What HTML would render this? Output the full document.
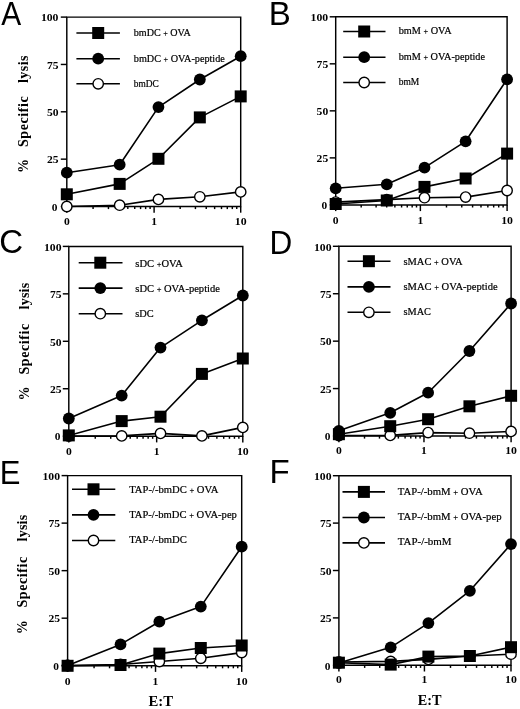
<!DOCTYPE html>
<html><head><meta charset="utf-8"><style>
html,body{margin:0;padding:0;background:#fff;width:520px;height:709px;overflow:hidden;}
svg{display:block;will-change:transform;}
.ax{stroke:#000;stroke-width:1.45;fill:none;stroke-linecap:butt;}
.dl{stroke:#000;stroke-width:1.6;fill:none;stroke-linejoin:round;}
.oc{fill:#fff;stroke:#000;stroke-width:1.4;}
.xl{font-family:"Liberation Serif",serif;font-weight:bold;font-size:11.2px;}
.tl{font-family:"Liberation Serif",serif;font-weight:bold;font-size:10.6px;}
.lg{font-family:"Liberation Serif",serif;font-size:10px;stroke:#000;stroke-width:0.2px;}
.yl{font-family:"Liberation Serif",serif;font-weight:bold;font-size:14px;}
.et{font-family:"Liberation Serif",serif;font-weight:bold;font-size:14.5px;}
.pl{font-family:"Liberation Sans",sans-serif;font-size:33px;}
</style></head><body>
<svg width="520" height="709" viewBox="0 0 520 709">
<path d="M66.8 206.5V17.1H240.7V206.5H66.8" class="ax"/>
<path d="M60.8 206.5H66.8" class="ax"/>
<text x="57.4" y="210.7" class="tl" style="font-size:11.4px" text-anchor="end" textLength="5.7" lengthAdjust="spacingAndGlyphs">0</text>
<path d="M60.8 159.15H66.8" class="ax"/>
<text x="58.5" y="163.35" class="tl" text-anchor="end" textLength="11.6" lengthAdjust="spacingAndGlyphs">25</text>
<path d="M60.8 111.8H66.8" class="ax"/>
<text x="58.5" y="116" class="tl" text-anchor="end" textLength="11.6" lengthAdjust="spacingAndGlyphs">50</text>
<path d="M60.8 64.45H66.8" class="ax"/>
<text x="58.5" y="68.65" class="tl" text-anchor="end" textLength="11.6" lengthAdjust="spacingAndGlyphs">75</text>
<path d="M60.8 17.1H66.8" class="ax"/>
<text x="58.5" y="21.3" class="tl" text-anchor="end" textLength="17.6" lengthAdjust="spacingAndGlyphs">100</text>
<path d="M93.08 206.5V209.1" class="ax"/>
<path d="M108.45 206.5V209.1" class="ax"/>
<path d="M119.36 206.5V209.1" class="ax"/>
<path d="M127.82 206.5V209.1" class="ax"/>
<path d="M134.73 206.5V209.1" class="ax"/>
<path d="M140.58 206.5V209.1" class="ax"/>
<path d="M145.64 206.5V209.1" class="ax"/>
<path d="M150.1 206.5V209.1" class="ax"/>
<path d="M180.17 206.5V209.1" class="ax"/>
<path d="M195.42 206.5V209.1" class="ax"/>
<path d="M206.24 206.5V209.1" class="ax"/>
<path d="M214.63 206.5V209.1" class="ax"/>
<path d="M221.49 206.5V209.1" class="ax"/>
<path d="M227.29 206.5V209.1" class="ax"/>
<path d="M232.31 206.5V209.1" class="ax"/>
<path d="M236.74 206.5V209.1" class="ax"/>
<path d="M66.8 206.5V212.7" class="ax"/>
<path d="M154.1 206.5V212.7" class="ax"/>
<path d="M240.7 206.5V212.7" class="ax"/>
<text x="66.8" y="225" class="xl" text-anchor="middle" textLength="5.8" lengthAdjust="spacingAndGlyphs">0</text>
<text x="154.1" y="225" class="xl" text-anchor="middle" textLength="5.8" lengthAdjust="spacingAndGlyphs">1</text>
<text x="240.7" y="225" class="xl" text-anchor="middle" textLength="11.8" lengthAdjust="spacingAndGlyphs">10</text>
<polyline points="66.8,206.5 119.67,205.2 158.45,199.4 199.83,196.8 240.7,191.9" class="dl"/>
<polyline points="66.8,194.3 119.67,183.9 158.45,158.8 199.83,117.4 240.7,96.4" class="dl"/>
<polyline points="66.8,172.7 119.67,164.7 158.45,107.1 199.83,79.5 240.7,56.2" class="dl"/>
<circle cx="66.8" cy="206.5" r="5.2" class="oc"/>
<circle cx="119.67" cy="205.2" r="5.2" class="oc"/>
<circle cx="158.45" cy="199.4" r="5.2" class="oc"/>
<circle cx="199.83" cy="196.8" r="5.2" class="oc"/>
<circle cx="240.7" cy="191.9" r="5.2" class="oc"/>
<circle cx="66.8" cy="172.7" r="5.9"/>
<circle cx="119.67" cy="164.7" r="5.9"/>
<circle cx="158.45" cy="107.1" r="5.9"/>
<circle cx="199.83" cy="79.5" r="5.9"/>
<circle cx="240.7" cy="56.2" r="5.9"/>
<rect x="60.8" y="188.3" width="12.0" height="12.0"/>
<rect x="113.67" y="177.9" width="12.0" height="12.0"/>
<rect x="152.45" y="152.8" width="12.0" height="12.0"/>
<rect x="193.83" y="111.4" width="12.0" height="12.0"/>
<rect x="234.7" y="90.4" width="12.0" height="12.0"/>
<path d="M76.4 33H119.9" class="dl"/>
<rect x="92.2" y="27" width="12.0" height="12.0"/>
<text x="133.8" y="36.3" class="lg" textLength="57" lengthAdjust="spacingAndGlyphs">bmDC <tspan style="font-size:8px">+</tspan> OVA</text>
<path d="M76.4 58.7H119.9" class="dl"/>
<circle cx="98.2" cy="58.7" r="5.9"/>
<text x="133.8" y="61.8" class="lg" textLength="91" lengthAdjust="spacingAndGlyphs">bmDC <tspan style="font-size:8px">+</tspan> OVA-peptide</text>
<path d="M76.4 83.8H119.9" class="dl"/>
<circle cx="98.2" cy="83.8" r="5.2" class="oc"/>
<text x="133.8" y="87" class="lg" textLength="25" lengthAdjust="spacingAndGlyphs">bmDC</text>
<text transform="translate(1.2,24.9) scale(0.905,1)" class="pl">A</text>
<path d="M335.7 204.9V16.8H507.1V204.9H335.7" class="ax"/>
<path d="M329.7 204.9H335.7" class="ax"/>
<text x="327.1" y="209.1" class="tl" style="font-size:11.4px" text-anchor="end" textLength="5.7" lengthAdjust="spacingAndGlyphs">0</text>
<path d="M329.7 157.88H335.7" class="ax"/>
<text x="328.2" y="162.07" class="tl" text-anchor="end" textLength="11.6" lengthAdjust="spacingAndGlyphs">25</text>
<path d="M329.7 110.85H335.7" class="ax"/>
<text x="328.2" y="115.05" class="tl" text-anchor="end" textLength="11.6" lengthAdjust="spacingAndGlyphs">50</text>
<path d="M329.7 63.83H335.7" class="ax"/>
<text x="328.2" y="68.03" class="tl" text-anchor="end" textLength="11.6" lengthAdjust="spacingAndGlyphs">75</text>
<path d="M329.7 16.8H335.7" class="ax"/>
<text x="328.2" y="21" class="tl" text-anchor="end" textLength="17.6" lengthAdjust="spacingAndGlyphs">100</text>
<path d="M361.19 204.9V207.5" class="ax"/>
<path d="M376.1 204.9V207.5" class="ax"/>
<path d="M386.68 204.9V207.5" class="ax"/>
<path d="M394.88 204.9V207.5" class="ax"/>
<path d="M401.59 204.9V207.5" class="ax"/>
<path d="M407.26 204.9V207.5" class="ax"/>
<path d="M412.17 204.9V207.5" class="ax"/>
<path d="M416.5 204.9V207.5" class="ax"/>
<path d="M446.48 204.9V207.5" class="ax"/>
<path d="M461.75 204.9V207.5" class="ax"/>
<path d="M472.59 204.9V207.5" class="ax"/>
<path d="M480.99 204.9V207.5" class="ax"/>
<path d="M487.86 204.9V207.5" class="ax"/>
<path d="M493.67 204.9V207.5" class="ax"/>
<path d="M498.7 204.9V207.5" class="ax"/>
<path d="M503.13 204.9V207.5" class="ax"/>
<path d="M335.7 204.9V211.1" class="ax"/>
<path d="M420.37 204.9V211.1" class="ax"/>
<path d="M507.1 204.9V211.1" class="ax"/>
<text x="335.7" y="223.9" class="xl" text-anchor="middle" textLength="5.8" lengthAdjust="spacingAndGlyphs">0</text>
<text x="420.37" y="223.9" class="xl" text-anchor="middle" textLength="5.8" lengthAdjust="spacingAndGlyphs">1</text>
<text x="507.1" y="223.9" class="xl" text-anchor="middle" textLength="11.8" lengthAdjust="spacingAndGlyphs">10</text>
<polyline points="335.7,202.1 386.78,199.6 424.49,197.7 465.62,197.1 507.1,190.5" class="dl"/>
<polyline points="335.7,204 386.78,200.5 424.49,186.9 465.62,178.5 507.1,153.6" class="dl"/>
<polyline points="335.7,188.3 386.78,184.3 424.49,167.7 465.62,141.3 507.1,79.3" class="dl"/>
<circle cx="335.7" cy="202.1" r="5.2" class="oc"/>
<circle cx="386.78" cy="199.6" r="5.2" class="oc"/>
<circle cx="424.49" cy="197.7" r="5.2" class="oc"/>
<circle cx="465.62" cy="197.1" r="5.2" class="oc"/>
<circle cx="507.1" cy="190.5" r="5.2" class="oc"/>
<circle cx="335.7" cy="188.3" r="5.9"/>
<circle cx="386.78" cy="184.3" r="5.9"/>
<circle cx="424.49" cy="167.7" r="5.9"/>
<circle cx="465.62" cy="141.3" r="5.9"/>
<circle cx="507.1" cy="79.3" r="5.9"/>
<rect x="329.7" y="198" width="12.0" height="12.0"/>
<rect x="380.78" y="194.5" width="12.0" height="12.0"/>
<rect x="418.49" y="180.9" width="12.0" height="12.0"/>
<rect x="459.62" y="172.5" width="12.0" height="12.0"/>
<rect x="501.1" y="147.6" width="12.0" height="12.0"/>
<path d="M343.2 31.5H385.5" class="dl"/>
<rect x="358.2" y="25.5" width="12.0" height="12.0"/>
<text x="398.7" y="33.7" class="lg" textLength="52.9" lengthAdjust="spacingAndGlyphs">bmM <tspan style="font-size:8px">+</tspan> OVA</text>
<path d="M343.2 57.2H385.5" class="dl"/>
<circle cx="364.2" cy="57.2" r="5.9"/>
<text x="398.7" y="59.7" class="lg" textLength="86.3" lengthAdjust="spacingAndGlyphs">bmM <tspan style="font-size:8px">+</tspan> OVA-peptide</text>
<path d="M343.2 82.5H385.5" class="dl"/>
<circle cx="364.2" cy="82.5" r="5.2" class="oc"/>
<text x="398.7" y="84.7" class="lg" textLength="20.6" lengthAdjust="spacingAndGlyphs">bmM</text>
<text transform="translate(268.8,25) scale(1,1)" class="pl">B</text>
<path d="M68.8 436.2V246.4H242.8V436.2H68.8" class="ax"/>
<path d="M62.8 436.2H68.8" class="ax"/>
<text x="60.5" y="440.4" class="tl" style="font-size:11.4px" text-anchor="end" textLength="5.7" lengthAdjust="spacingAndGlyphs">0</text>
<path d="M62.8 388.75H68.8" class="ax"/>
<text x="61.6" y="392.95" class="tl" text-anchor="end" textLength="11.6" lengthAdjust="spacingAndGlyphs">25</text>
<path d="M62.8 341.3H68.8" class="ax"/>
<text x="61.6" y="345.5" class="tl" text-anchor="end" textLength="11.6" lengthAdjust="spacingAndGlyphs">50</text>
<path d="M62.8 293.85H68.8" class="ax"/>
<text x="61.6" y="298.05" class="tl" text-anchor="end" textLength="11.6" lengthAdjust="spacingAndGlyphs">75</text>
<path d="M62.8 246.4H68.8" class="ax"/>
<text x="61.6" y="250.6" class="tl" text-anchor="end" textLength="17.6" lengthAdjust="spacingAndGlyphs">100</text>
<path d="M95.25 436.2V438.8" class="ax"/>
<path d="M110.72 436.2V438.8" class="ax"/>
<path d="M121.7 436.2V438.8" class="ax"/>
<path d="M130.22 436.2V438.8" class="ax"/>
<path d="M137.18 436.2V438.8" class="ax"/>
<path d="M143.06 436.2V438.8" class="ax"/>
<path d="M148.15 436.2V438.8" class="ax"/>
<path d="M152.65 436.2V438.8" class="ax"/>
<path d="M182.6 436.2V438.8" class="ax"/>
<path d="M197.76 436.2V438.8" class="ax"/>
<path d="M208.53 436.2V438.8" class="ax"/>
<path d="M216.87 436.2V438.8" class="ax"/>
<path d="M223.69 436.2V438.8" class="ax"/>
<path d="M229.46 436.2V438.8" class="ax"/>
<path d="M234.45 436.2V438.8" class="ax"/>
<path d="M238.86 436.2V438.8" class="ax"/>
<path d="M68.8 436.2V442.4" class="ax"/>
<path d="M156.67 436.2V442.4" class="ax"/>
<path d="M242.8 436.2V442.4" class="ax"/>
<text x="68.8" y="455.2" class="xl" text-anchor="middle" textLength="5.8" lengthAdjust="spacingAndGlyphs">0</text>
<text x="156.67" y="455.2" class="xl" text-anchor="middle" textLength="5.8" lengthAdjust="spacingAndGlyphs">1</text>
<text x="242.8" y="455.2" class="xl" text-anchor="middle" textLength="11.8" lengthAdjust="spacingAndGlyphs">10</text>
<polyline points="68.8,436 121.7,435.9 160.5,433.4 201.91,435.9 242.8,427.4" class="dl"/>
<polyline points="68.8,435.4 121.7,421.1 160.5,416.7 201.91,373.9 242.8,358.5" class="dl"/>
<polyline points="68.8,418.5 121.7,395.6 160.5,347.6 201.91,320.3 242.8,295.5" class="dl"/>
<circle cx="68.8" cy="436" r="5.2" class="oc"/>
<circle cx="121.7" cy="435.9" r="5.2" class="oc"/>
<circle cx="160.5" cy="433.4" r="5.2" class="oc"/>
<circle cx="201.91" cy="435.9" r="5.2" class="oc"/>
<circle cx="242.8" cy="427.4" r="5.2" class="oc"/>
<circle cx="68.8" cy="418.5" r="5.9"/>
<circle cx="121.7" cy="395.6" r="5.9"/>
<circle cx="160.5" cy="347.6" r="5.9"/>
<circle cx="201.91" cy="320.3" r="5.9"/>
<circle cx="242.8" cy="295.5" r="5.9"/>
<rect x="62.8" y="429.4" width="12.0" height="12.0"/>
<rect x="115.7" y="415.1" width="12.0" height="12.0"/>
<rect x="154.5" y="410.7" width="12.0" height="12.0"/>
<rect x="195.91" y="367.9" width="12.0" height="12.0"/>
<rect x="236.8" y="352.5" width="12.0" height="12.0"/>
<path d="M78.7 262.7H122.5" class="dl"/>
<rect x="94.3" y="256.7" width="12.0" height="12.0"/>
<text x="135.3" y="266.5" class="lg" textLength="47.6" lengthAdjust="spacingAndGlyphs">sDC <tspan style="font-size:8px">+</tspan>OVA</text>
<path d="M78.7 288.1H122.5" class="dl"/>
<circle cx="100.3" cy="288.1" r="5.9"/>
<text x="135.3" y="291.7" class="lg" textLength="84.6" lengthAdjust="spacingAndGlyphs">sDC <tspan style="font-size:8px">+</tspan> OVA-peptide</text>
<path d="M78.7 313.7H122.5" class="dl"/>
<circle cx="100.3" cy="313.7" r="5.2" class="oc"/>
<text x="135.3" y="316.6" class="lg" textLength="18.4" lengthAdjust="spacingAndGlyphs">sDC</text>
<text transform="translate(-0.8,253.4) scale(1,1)" class="pl">C</text>
<path d="M338.9 436V246.3H511.1V436H338.9" class="ax"/>
<path d="M332.9 436H338.9" class="ax"/>
<text x="330.5" y="440.2" class="tl" style="font-size:11.4px" text-anchor="end" textLength="5.7" lengthAdjust="spacingAndGlyphs">0</text>
<path d="M332.9 388.57H338.9" class="ax"/>
<text x="331.6" y="392.77" class="tl" text-anchor="end" textLength="11.6" lengthAdjust="spacingAndGlyphs">25</text>
<path d="M332.9 341.15H338.9" class="ax"/>
<text x="331.6" y="345.35" class="tl" text-anchor="end" textLength="11.6" lengthAdjust="spacingAndGlyphs">50</text>
<path d="M332.9 293.73H338.9" class="ax"/>
<text x="331.6" y="297.93" class="tl" text-anchor="end" textLength="11.6" lengthAdjust="spacingAndGlyphs">75</text>
<path d="M332.9 246.3H338.9" class="ax"/>
<text x="331.6" y="250.5" class="tl" text-anchor="end" textLength="17.6" lengthAdjust="spacingAndGlyphs">100</text>
<path d="M364.51 436V438.6" class="ax"/>
<path d="M379.49 436V438.6" class="ax"/>
<path d="M390.12 436V438.6" class="ax"/>
<path d="M398.36 436V438.6" class="ax"/>
<path d="M405.09 436V438.6" class="ax"/>
<path d="M410.79 436V438.6" class="ax"/>
<path d="M415.72 436V438.6" class="ax"/>
<path d="M420.07 436V438.6" class="ax"/>
<path d="M450.2 436V438.6" class="ax"/>
<path d="M465.54 436V438.6" class="ax"/>
<path d="M476.43 436V438.6" class="ax"/>
<path d="M484.87 436V438.6" class="ax"/>
<path d="M491.77 436V438.6" class="ax"/>
<path d="M497.6 436V438.6" class="ax"/>
<path d="M502.66 436V438.6" class="ax"/>
<path d="M507.11 436V438.6" class="ax"/>
<path d="M338.9 436V442.2" class="ax"/>
<path d="M423.97 436V442.2" class="ax"/>
<path d="M511.1 436V442.2" class="ax"/>
<text x="338.9" y="454.3" class="xl" text-anchor="middle" textLength="5.8" lengthAdjust="spacingAndGlyphs">0</text>
<text x="423.97" y="454.3" class="xl" text-anchor="middle" textLength="5.8" lengthAdjust="spacingAndGlyphs">1</text>
<text x="511.1" y="454.3" class="xl" text-anchor="middle" textLength="11.8" lengthAdjust="spacingAndGlyphs">10</text>
<polyline points="338.9,435.5 390.22,435.4 428.1,432.6 469.43,433.2 511.1,431.4" class="dl"/>
<polyline points="338.9,434.2 390.22,426.2 428.1,419.2 469.43,406.3 511.1,395.8" class="dl"/>
<polyline points="338.9,430.8 390.22,412.8 428.1,392.7 469.43,351 511.1,303.5" class="dl"/>
<circle cx="338.9" cy="435.5" r="5.2" class="oc"/>
<circle cx="390.22" cy="435.4" r="5.2" class="oc"/>
<circle cx="428.1" cy="432.6" r="5.2" class="oc"/>
<circle cx="469.43" cy="433.2" r="5.2" class="oc"/>
<circle cx="511.1" cy="431.4" r="5.2" class="oc"/>
<circle cx="338.9" cy="430.8" r="5.9"/>
<circle cx="390.22" cy="412.8" r="5.9"/>
<circle cx="428.1" cy="392.7" r="5.9"/>
<circle cx="469.43" cy="351" r="5.9"/>
<circle cx="511.1" cy="303.5" r="5.9"/>
<rect x="332.9" y="428.2" width="12.0" height="12.0"/>
<rect x="384.22" y="420.2" width="12.0" height="12.0"/>
<rect x="422.1" y="413.2" width="12.0" height="12.0"/>
<rect x="463.43" y="400.3" width="12.0" height="12.0"/>
<rect x="505.1" y="389.8" width="12.0" height="12.0"/>
<path d="M347.5 261.2H390.5" class="dl"/>
<rect x="362.9" y="255.2" width="12.0" height="12.0"/>
<text x="403.5" y="264.8" class="lg" textLength="59.2" lengthAdjust="spacingAndGlyphs">sMAC <tspan style="font-size:8px">+</tspan> OVA</text>
<path d="M347.5 286.9H390.5" class="dl"/>
<circle cx="368.9" cy="286.9" r="5.9"/>
<text x="403.5" y="290.2" class="lg" textLength="94.1" lengthAdjust="spacingAndGlyphs">sMAC <tspan style="font-size:8px">+</tspan> OVA-peptide</text>
<path d="M347.5 312.3H390.5" class="dl"/>
<circle cx="368.9" cy="312.3" r="5.2" class="oc"/>
<text x="403.5" y="315" class="lg" textLength="27.5" lengthAdjust="spacingAndGlyphs">sMAC</text>
<text transform="translate(269.5,253.6) scale(0.955,1)" class="pl">D</text>
<path d="M67.6 665.7V475.6H241.7V665.7H67.6" class="ax"/>
<path d="M61.6 665.7H67.6" class="ax"/>
<text x="59" y="669.9" class="tl" style="font-size:11.4px" text-anchor="end" textLength="5.7" lengthAdjust="spacingAndGlyphs">0</text>
<path d="M61.6 618.18H67.6" class="ax"/>
<text x="60.1" y="622.38" class="tl" text-anchor="end" textLength="11.6" lengthAdjust="spacingAndGlyphs">25</text>
<path d="M61.6 570.65H67.6" class="ax"/>
<text x="60.1" y="574.85" class="tl" text-anchor="end" textLength="11.6" lengthAdjust="spacingAndGlyphs">50</text>
<path d="M61.6 523.12H67.6" class="ax"/>
<text x="60.1" y="527.33" class="tl" text-anchor="end" textLength="11.6" lengthAdjust="spacingAndGlyphs">75</text>
<path d="M61.6 475.6H67.6" class="ax"/>
<text x="60.1" y="479.8" class="tl" text-anchor="end" textLength="17.6" lengthAdjust="spacingAndGlyphs">100</text>
<path d="M94.07 665.7V668.3" class="ax"/>
<path d="M109.55 665.7V668.3" class="ax"/>
<path d="M120.53 665.7V668.3" class="ax"/>
<path d="M129.05 665.7V668.3" class="ax"/>
<path d="M136.02 665.7V668.3" class="ax"/>
<path d="M141.9 665.7V668.3" class="ax"/>
<path d="M147 665.7V668.3" class="ax"/>
<path d="M151.5 665.7V668.3" class="ax"/>
<path d="M181.46 665.7V668.3" class="ax"/>
<path d="M196.64 665.7V668.3" class="ax"/>
<path d="M207.41 665.7V668.3" class="ax"/>
<path d="M215.76 665.7V668.3" class="ax"/>
<path d="M222.58 665.7V668.3" class="ax"/>
<path d="M228.35 665.7V668.3" class="ax"/>
<path d="M233.35 665.7V668.3" class="ax"/>
<path d="M237.76 665.7V668.3" class="ax"/>
<path d="M67.6 665.7V671.9" class="ax"/>
<path d="M155.52 665.7V671.9" class="ax"/>
<path d="M241.7 665.7V671.9" class="ax"/>
<text x="67.6" y="684.6" class="xl" text-anchor="middle" textLength="5.8" lengthAdjust="spacingAndGlyphs">0</text>
<text x="155.52" y="684.6" class="xl" text-anchor="middle" textLength="5.8" lengthAdjust="spacingAndGlyphs">1</text>
<text x="241.7" y="684.6" class="xl" text-anchor="middle" textLength="11.8" lengthAdjust="spacingAndGlyphs">10</text>
<polyline points="67.6,665.5 120.53,664.5 159.35,661.5 200.79,658.3 241.7,652.6" class="dl"/>
<polyline points="67.6,665.8 120.53,665 159.35,653.6 200.79,648 241.7,645.5" class="dl"/>
<polyline points="67.6,665.5 120.53,644.4 159.35,621.7 200.79,606.6 241.7,546.7" class="dl"/>
<circle cx="67.6" cy="665.5" r="5.2" class="oc"/>
<circle cx="120.53" cy="664.5" r="5.2" class="oc"/>
<circle cx="159.35" cy="661.5" r="5.2" class="oc"/>
<circle cx="200.79" cy="658.3" r="5.2" class="oc"/>
<circle cx="241.7" cy="652.6" r="5.2" class="oc"/>
<circle cx="67.6" cy="665.5" r="5.9"/>
<circle cx="120.53" cy="644.4" r="5.9"/>
<circle cx="159.35" cy="621.7" r="5.9"/>
<circle cx="200.79" cy="606.6" r="5.9"/>
<circle cx="241.7" cy="546.7" r="5.9"/>
<rect x="61.6" y="659.8" width="12.0" height="12.0"/>
<rect x="114.53" y="659" width="12.0" height="12.0"/>
<rect x="153.35" y="647.6" width="12.0" height="12.0"/>
<rect x="194.79" y="642" width="12.0" height="12.0"/>
<rect x="235.7" y="639.5" width="12.0" height="12.0"/>
<path d="M72 489.3H115.3" class="dl"/>
<rect x="87.5" y="483.3" width="12.0" height="12.0"/>
<text x="129.2" y="493" class="lg" textLength="89.3" lengthAdjust="spacingAndGlyphs">TAP-/-bmDC <tspan style="font-size:8px">+</tspan> OVA</text>
<path d="M72 514.9H115.3" class="dl"/>
<circle cx="93.5" cy="514.9" r="5.9"/>
<text x="129.2" y="517.7" class="lg" textLength="107.7" lengthAdjust="spacingAndGlyphs">TAP-/-bmDC <tspan style="font-size:8px">+</tspan> OVA-pep</text>
<path d="M72 540.5H115.3" class="dl"/>
<circle cx="93.5" cy="540.5" r="5.2" class="oc"/>
<text x="129.2" y="543.1" class="lg" textLength="57.7" lengthAdjust="spacingAndGlyphs">TAP-/-bmDC</text>
<text transform="translate(-0.3,483.6) scale(0.94,1)" class="pl">E</text>
<path d="M338.9 665.3V475.7H511V665.3H338.9" class="ax"/>
<path d="M332.9 665.3H338.9" class="ax"/>
<text x="330.5" y="669.5" class="tl" style="font-size:11.4px" text-anchor="end" textLength="5.7" lengthAdjust="spacingAndGlyphs">0</text>
<path d="M332.9 617.9H338.9" class="ax"/>
<text x="331.6" y="622.1" class="tl" text-anchor="end" textLength="11.6" lengthAdjust="spacingAndGlyphs">25</text>
<path d="M332.9 570.5H338.9" class="ax"/>
<text x="331.6" y="574.7" class="tl" text-anchor="end" textLength="11.6" lengthAdjust="spacingAndGlyphs">50</text>
<path d="M332.9 523.1H338.9" class="ax"/>
<text x="331.6" y="527.3" class="tl" text-anchor="end" textLength="11.6" lengthAdjust="spacingAndGlyphs">75</text>
<path d="M332.9 475.7H338.9" class="ax"/>
<text x="331.6" y="479.9" class="tl" text-anchor="end" textLength="17.6" lengthAdjust="spacingAndGlyphs">100</text>
<path d="M364.65 665.3V667.9" class="ax"/>
<path d="M379.71 665.3V667.9" class="ax"/>
<path d="M390.4 665.3V667.9" class="ax"/>
<path d="M398.69 665.3V667.9" class="ax"/>
<path d="M405.46 665.3V667.9" class="ax"/>
<path d="M411.18 665.3V667.9" class="ax"/>
<path d="M416.14 665.3V667.9" class="ax"/>
<path d="M420.52 665.3V667.9" class="ax"/>
<path d="M450.49 665.3V667.9" class="ax"/>
<path d="M465.74 665.3V667.9" class="ax"/>
<path d="M476.55 665.3V667.9" class="ax"/>
<path d="M484.94 665.3V667.9" class="ax"/>
<path d="M491.8 665.3V667.9" class="ax"/>
<path d="M497.59 665.3V667.9" class="ax"/>
<path d="M502.61 665.3V667.9" class="ax"/>
<path d="M507.04 665.3V667.9" class="ax"/>
<path d="M338.9 665.3V671.5" class="ax"/>
<path d="M424.43 665.3V671.5" class="ax"/>
<path d="M511 665.3V671.5" class="ax"/>
<text x="338.9" y="683.3" class="xl" text-anchor="middle" textLength="5.8" lengthAdjust="spacingAndGlyphs">0</text>
<text x="424.43" y="683.3" class="xl" text-anchor="middle" textLength="5.8" lengthAdjust="spacingAndGlyphs">1</text>
<text x="511" y="683.3" class="xl" text-anchor="middle" textLength="11.8" lengthAdjust="spacingAndGlyphs">10</text>
<polyline points="338.9,662 390.7,661.4 428.39,659.4 469.87,656 511,654.2" class="dl"/>
<polyline points="338.9,662.7 390.7,664.6 428.39,656.6 469.87,656 511,647.2" class="dl"/>
<polyline points="338.9,663 390.7,647.3 428.39,623.1 469.87,590.8 511,544.1" class="dl"/>
<circle cx="338.9" cy="662" r="5.2" class="oc"/>
<circle cx="390.7" cy="661.4" r="5.2" class="oc"/>
<circle cx="428.39" cy="659.4" r="5.2" class="oc"/>
<circle cx="469.87" cy="656" r="5.2" class="oc"/>
<circle cx="511" cy="654.2" r="5.2" class="oc"/>
<circle cx="338.9" cy="663" r="5.9"/>
<circle cx="390.7" cy="647.3" r="5.9"/>
<circle cx="428.39" cy="623.1" r="5.9"/>
<circle cx="469.87" cy="590.8" r="5.9"/>
<circle cx="511" cy="544.1" r="5.9"/>
<rect x="332.9" y="656.7" width="12.0" height="12.0"/>
<rect x="384.7" y="658.6" width="12.0" height="12.0"/>
<rect x="422.39" y="650.6" width="12.0" height="12.0"/>
<rect x="463.87" y="650" width="12.0" height="12.0"/>
<rect x="505" y="641.2" width="12.0" height="12.0"/>
<path d="M342.5 491.9H385" class="dl"/>
<rect x="357.9" y="485.9" width="12.0" height="12.0"/>
<text x="397.8" y="495" class="lg" textLength="84.9" lengthAdjust="spacingAndGlyphs">TAP-/-bmM <tspan style="font-size:8px">+</tspan> OVA</text>
<path d="M342.5 517.5H385" class="dl"/>
<circle cx="363.9" cy="517.5" r="5.9"/>
<text x="397.8" y="520.4" class="lg" textLength="103.8" lengthAdjust="spacingAndGlyphs">TAP-/-bmM <tspan style="font-size:8px">+</tspan> OVA-pep</text>
<path d="M342.5 542.9H385" class="dl"/>
<circle cx="363.9" cy="542.9" r="5.2" class="oc"/>
<text x="397.8" y="545.3" class="lg" textLength="53.7" lengthAdjust="spacingAndGlyphs">TAP-/-bmM</text>
<text transform="translate(269.4,482.8) scale(1,1)" class="pl">F</text>
<text transform="translate(28.4,173) rotate(-90)" class="yl" style="font-size:14px">%</text>
<text transform="translate(28.4,147) rotate(-90)" class="yl" textLength="50.8" lengthAdjust="spacing">Specific</text>
<text transform="translate(28.4,83) rotate(-90)" class="yl" textLength="27.5" lengthAdjust="spacing">lysis</text>
<text transform="translate(29.4,400.4) rotate(-90)" class="yl" style="font-size:14px">%</text>
<text transform="translate(29.4,374.6) rotate(-90)" class="yl" textLength="50.9" lengthAdjust="spacing">Specific</text>
<text transform="translate(29.4,309.5) rotate(-90)" class="yl" textLength="26.7" lengthAdjust="spacing">lysis</text>
<text transform="translate(27.4,634.2) rotate(-90)" class="yl" style="font-size:14px">%</text>
<text transform="translate(27.4,607.6) rotate(-90)" class="yl" textLength="50.8" lengthAdjust="spacing">Specific</text>
<text transform="translate(27.4,541.4) rotate(-90)" class="yl" textLength="26.6" lengthAdjust="spacing">lysis</text>
<text x="148.5" y="705.8" class="et" textLength="24.6" lengthAdjust="spacingAndGlyphs">E:T</text>
<text x="417.7" y="705.4" class="et" textLength="23.8" lengthAdjust="spacingAndGlyphs">E:T</text>
</svg>
</body></html>
